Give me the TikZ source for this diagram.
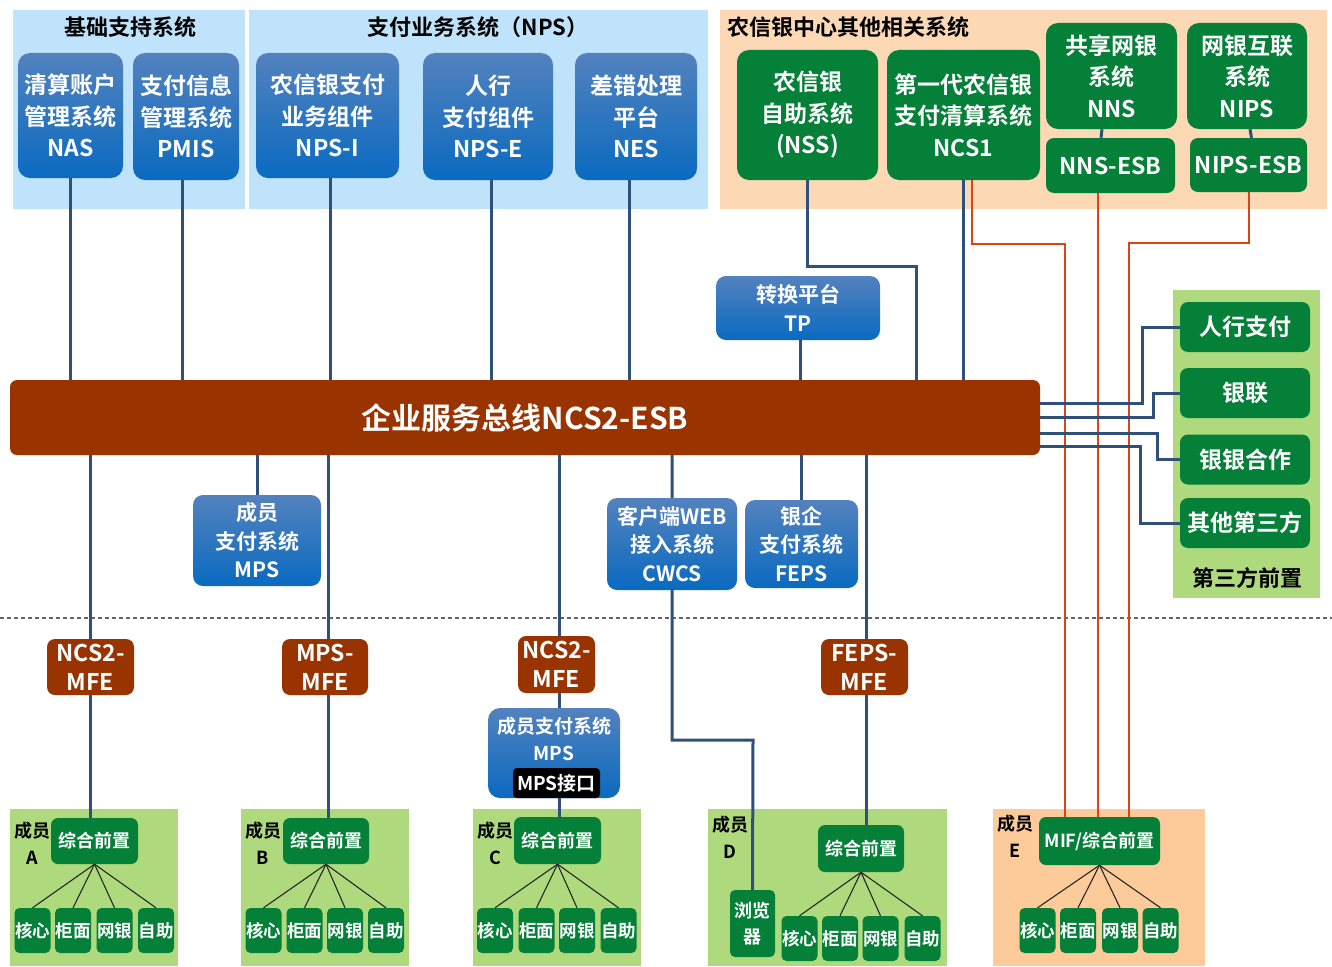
\documentclass[tikz,border=0pt]{standalone}
\usepackage{fontspec}
\setmainfont{Noto Sans CJK SC}[BoldFont={* Bold}]
\usetikzlibrary{calc}
\definecolor{lblue}{RGB}{190,227,250}
\definecolor{peach}{RGB}{253,216,180}
\definecolor{peachE}{RGB}{252,203,153}
\definecolor{lgreen}{RGB}{174,218,125}
\definecolor{dgreen}{RGB}{5,128,56}
\definecolor{btop}{RGB}{83,130,190}
\definecolor{bbot}{RGB}{10,106,192}
\definecolor{busred}{RGB}{153,51,0}
\definecolor{lineb}{RGB}{47,80,122}
\definecolor{liner}{RGB}{218,68,22}
\newcommand\fs[2]{\fontsize{#1}{#2}\selectfont\bfseries}
\pgfdeclarelayer{bgpanel}
\pgfdeclarelayer{bgline}
\pgfsetlayers{bgpanel,bgline,main}
\newcommand\mkkids[6]{%
 \node[kid] (k#1a) at (#3,#2) {核心};
 \node[kid] (k#1b) at (#4,#2) {柜面};
 \node[kid] (k#1c) at (#5,#2) {网银};
 \node[kid] (k#1d) at (#6,#2) {自助};
 \foreach \k in {a,b,c,d} \draw[tree] (zh#1.south) -- (k#1\k.north);
}
\tikzset{
 bbox/.style={rounded corners=12pt, top color=btop, bottom color=bbot, draw=none, text=white, align=center, inner sep=0pt, font=\fs{23}{31.5}},
 gbox/.style={rounded corners=12pt, fill=dgreen, draw=none, text=white, align=center, inner sep=0pt, font=\fs{23}{31.5}},
 mfe/.style={rounded corners=8pt, fill=busred, draw=none, text=white, align=center, inner sep=0pt, font=\fs{23}{29}, minimum width=87pt, minimum height=56pt},
 zh/.style={rounded corners=7pt, fill=dgreen, draw=none, text=white, inner sep=0pt, font=\fs{18}{22}, minimum width=87pt, minimum height=46pt},
 kid/.style={rounded corners=5pt, fill=dgreen, draw=none, text=white, inner sep=0pt, font=\fs{17.5}{20}, minimum width=36pt, minimum height=45pt},
 tpbox/.style={rounded corners=8pt, fill=dgreen, draw=none, text=white, inner sep=0pt, font=\fs{23}{26}, minimum width=130pt, minimum height=50pt},
 title/.style={text=black, inner sep=0pt, font=\fs{22}{26}},
 mlabel/.style={text=black, inner sep=0pt, align=center, font=\fs{18}{27}},
 conn/.style={draw=lineb, line width=3pt},
 rconn/.style={draw=liner, line width=2.5pt},
 tree/.style={draw=black!85, line width=1.1pt},
}
\begin{document}
\begin{tikzpicture}[x=1pt,y=-1pt]
\useasboundingbox (0,0) rectangle (1332,966);
% ---------- panels ----------
\begin{pgfonlayer}{bgpanel}
 \fill[white] (0,0) rectangle (1332,966);
 \fill[lblue] (13,10) rectangle (245,209);
 \fill[lblue] (249,10) rectangle (708,209);
 \fill[peach] (720,10) rectangle (1327,209);
 \fill[lgreen] (1173,290) rectangle (1320,598);
 \fill[lgreen] (10,809) rectangle (178,966);
 \fill[lgreen] (241,809) rectangle (409,966);
 \fill[lgreen] (473,809) rectangle (641,966);
 \fill[lgreen] (708,809) rectangle (947,966);
 \fill[peachE] (993,809) rectangle (1205,966);
 \draw[black!60, line width=1.2pt, dash pattern=on 4pt off 3pt] (0,618) -- (1332,618);
\end{pgfonlayer}
\node[title] (t1) at (130,27) {基础支持系统};
\node[title] (t2) at (478,27) {支付业务系统（NPS）};
\node[title, anchor=west] (t3) at (727,27) {农信银中心其他相关系统};
% ---------- top boxes ----------
\node[bbox, minimum width=105pt, minimum height=125pt] (nas) at (70.5,115.5) {清算账户\\管理系统\\NAS};
\node[bbox, minimum width=106pt, minimum height=127pt] (pmis) at (186,116.5) {支付信息\\管理系统\\PMIS};
\node[bbox, minimum width=143pt, minimum height=125pt] (npsi) at (327.5,115.5) {农信银支付\\业务组件\\NPS-I};
\node[bbox, minimum width=130pt, minimum height=127pt] (npse) at (488,116.5) {人行\\支付组件\\NPS-E};
\node[bbox, minimum width=122pt, minimum height=127pt] (nes) at (636,116.5) {差错处理\\平台\\NES};
\node[gbox, minimum width=141pt, minimum height=130pt] (nss) at (807.5,115) {农信银\\自助系统\\(NSS)};
\node[gbox, minimum width=153pt, minimum height=130pt] (ncs1) at (963.5,115) {第一代农信银\\支付清算系统\\NCS1};
\node[gbox, minimum width=131pt, minimum height=106pt] (nns) at (1111.5,76) {共享网银\\系统\\NNS};
\node[gbox, rounded corners=8pt, minimum width=129pt, minimum height=55pt] (nnsesb) at (1110.5,165.5) {NNS-ESB};
\node[gbox, minimum width=120pt, minimum height=106pt] (nips) at (1247,76) {网银互联\\系统\\NIPS};
\node[gbox, rounded corners=8pt, minimum width=117pt, minimum height=54pt] (nipsesb) at (1248.5,165) {NIPS-ESB};
% ---------- middle ----------
\node[bbox, rounded corners=10pt, font=\fs{21}{29}, minimum width=164pt, minimum height=64pt] (tp) at (798,308) {转换平台\\TP};
\node[rounded corners=7pt, fill=busred, text=white, inner sep=0pt, font=\fs{30}{32}, minimum width=1030pt, minimum height=75pt] (bus) at (525,417.5) {企业服务总线NCS2-ESB};
\node[bbox, rounded corners=10pt, font=\fs{21}{28.5}, minimum width=128pt, minimum height=91pt] (mps) at (257,540.5) {成员\\支付系统\\MPS};
\node[bbox, rounded corners=10pt, font=\fs{21}{28.5}, minimum width=130pt, minimum height=92pt] (cwcs) at (672,544) {客户端WEB\\接入系统\\CWCS};
\node[bbox, rounded corners=10pt, font=\fs{21}{28.5}, minimum width=113pt, minimum height=88pt] (feps) at (801.5,544) {银企\\支付系统\\FEPS};
% third party
\node[tpbox] (tp1) at (1245,327) {人行支付};
\node[tpbox] (tp2) at (1245,393) {银联};
\node[tpbox] (tp3) at (1245,459.5) {银银合作};
\node[tpbox] (tp4) at (1245,523) {其他第三方};
\node[title] (tpl) at (1247,578) {第三方前置};
% ---------- MFE ----------
\node[mfe] (mfeA) at (90.5,667) {NCS2-\\MFE};
\node[mfe, minimum width=86pt] (mfeB) at (325,667) {MPS-\\MFE};
\node[mfe, minimum width=77pt, minimum height=57pt] (mfeC) at (556.5,664.5) {NCS2-\\MFE};
\node[mfe] (mfeD) at (864.5,667) {FEPS-\\MFE};
\node[bbox, rounded corners=12pt, minimum width=132pt, minimum height=90pt] (mpsC) at (554,753) {};
\node[text=white, align=center, inner sep=0pt, font=\fs{19}{27}] (mpsCt) at (554,739) {成员支付系统\\MPS};
\node[fill=black, rounded corners=4pt, text=white, inner sep=0pt, font=\fs{19}{22}, minimum width=87pt, minimum height=30pt] (mpsi) at (556.5,783) {MPS接口};
% ---------- members ----------
\node[mlabel] (mA) at (32,843) {成员\\A};
\node[zh] (zhA) at (94.5,841) {综合前置};
\mkkids{A}{930.5}{32.5}{73}{114.5}{156}
\node[mlabel] (mB) at (263,843) {成员\\B};
\node[zh, minimum width=86pt] (zhB) at (326,841) {综合前置};
\mkkids{B}{930.5}{263.5}{304.5}{345}{386}
\node[mlabel] (mC) at (495,843) {成员\\C};
\node[zh, minimum height=47pt] (zhC) at (557.5,840.5) {综合前置};
\mkkids{C}{930.5}{495}{536.5}{577}{618.5}
\node[mlabel] (mD) at (730,837) {成员\\D};
\node[zh, minimum width=86pt, minimum height=47pt] (zhD) at (861,848.5) {综合前置};
\node[kid, align=center, font=\fs{18}{26}, minimum width=45pt, minimum height=67pt] (brw) at (752.5,923.5) {浏览\\器};
\mkkids{D}{938.5}{799.5}{840}{880.5}{922.5}
\node[mlabel] (mE) at (1015,836) {成员\\E};
\node[zh, minimum width=121pt, minimum height=48pt] (zhE) at (1099.5,841) {MIF/综合前置};
\mkkids{E}{930.5}{1037.5}{1078}{1120}{1160.5}
% ---------- connectors ----------
\begin{pgfonlayer}{bgline}
 \draw[conn] (nas.south) -- (nas.south |- bus.north);
 \draw[conn] ([xshift=-4pt]pmis.south) -- ([xshift=-4pt]pmis.south |- bus.north);
 \draw[conn] ([xshift=2.5pt]npsi.south) -- ([xshift=2.5pt]npsi.south |- bus.north);
 \draw[conn] ([xshift=3pt]npse.south) -- ([xshift=3pt]npse.south |- bus.north);
 \draw[conn] ([xshift=-7pt]nes.south) -- ([xshift=-7pt]nes.south |- bus.north);
 \draw[conn] (nss.south) |- (916,266) -- (916,380);
 \draw[conn] ([xshift=2pt]tp.south) -- ([xshift=2pt]tp.south |- bus.north);
 \draw[conn] (ncs1.south) -- (ncs1.south |- bus.north);
 \draw[conn] ([xshift=-9.5pt]nns.south) -- ([xshift=-9.5pt]nnsesb.north);
 \draw[conn] ([xshift=3pt]nips.south) -- ([xshift=3pt]nipsesb.north);
 % red
 \draw[rconn] ([xshift=8.5pt]ncs1.south) |- (1065,244) -- (1065,817);
 \draw[rconn] ([xshift=-12.5pt]nnsesb.south) -- (1098,817);
 \draw[rconn] ([xshift=0.5pt]nipsesb.south) |- (1129,243) -- (1129,817);
 % third party
 \draw[conn] (bus.east |- 0,403) -| (1142,327) -- (tp1.west);
 \draw[conn] (bus.east |- 0,417) -| (1153,393) -- (tp2.west);
 \draw[conn] (bus.east |- 0,433) -| (1157,459.5) -- (tp3.west);
 \draw[conn] (bus.east |- 0,446) -| (1140,523) -- (tp4.west);
 % lower
 \draw[conn] (mfeA.north |- bus.south) -- (mfeA.south |- zhA.north);
 \draw[conn] (mps.north |- bus.south) -- (mps.north);
 \draw[conn] ([xshift=3pt]mfeB.north |- bus.south) -- ([xshift=3pt]mfeB.south |- zhB.north);
 \draw[conn] ([xshift=2.5pt]mfeC.north |- bus.south) -- ([xshift=2.5pt]mfeC.south |- zhC.north);
 \draw[conn] (cwcs.north |- bus.south) -- (cwcs.south) |- (753,740) -- (brw.north);
 \draw[conn] (feps.north |- bus.south) -- (feps.north);
 \draw[conn] ([xshift=1.5pt]mfeD.north |- bus.south) -- ([xshift=1.5pt]mfeD.south |- zhD.north);
\end{pgfonlayer}
\end{tikzpicture}
\end{document}
